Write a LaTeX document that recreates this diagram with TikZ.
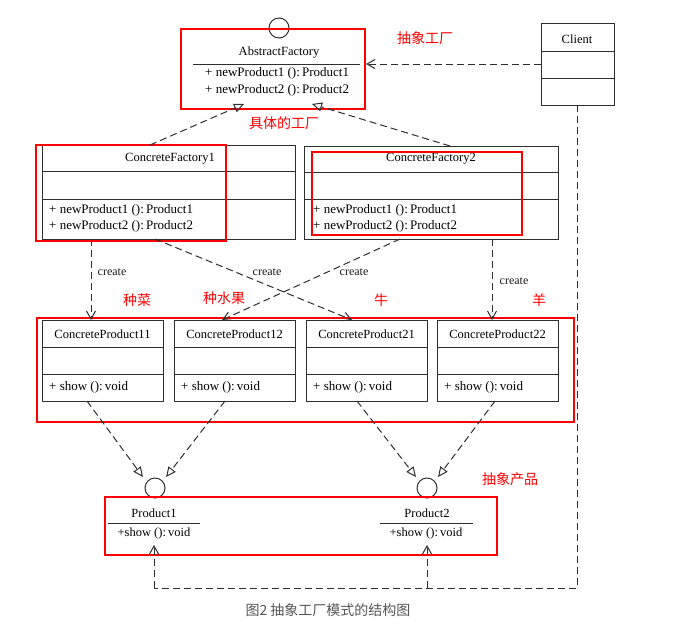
\documentclass[tikz,border=0pt]{standalone}
\usepackage{fontspec}
\setmainfont{Liberation Serif}
\newfontfamily\cjk{Noto Sans CJK SC}
\usetikzlibrary{arrows.meta}
\definecolor{umlgray}{HTML}{2E2E2E}
\definecolor{capgray}{HTML}{555555}
\tikzset{
  uml/.style={draw=umlgray, line width=1pt},
  cls/.style={uml, rectangle, inner sep=0pt, anchor=north west},
  dashline/.style={draw=umlgray, line width=1pt, dash pattern=on 7pt off 4pt},
  dep/.style={dashline, -{Straight Barb[length=8pt,width=9pt]}},
  real/.style={dashline, -{Triangle[open,length=10pt,width=9pt]}},
  redbox/.style={draw=red, line width=2pt},
  ttl/.style={inner sep=0pt, text=black, font=\fontsize{12.5}{14}\selectfont},
  mth/.style={inner sep=0pt, anchor=west, text=black, font=\fontsize{13}{14}\selectfont},
  crt/.style={inner sep=0pt, text=black!90, font=\fontsize{12}{14}\selectfont},
  rlab/.style={inner sep=0pt, text=red, font=\cjk\fontsize{14}{16}\selectfont},
}
\begin{document}
\begin{tikzpicture}[x=1pt,y=-1pt]
\useasboundingbox (0,0) rectangle (692,629);
% ---------- Client ----------
\node[cls, minimum width=73pt, minimum height=82pt] (client) at (541,23) {};
\draw[uml] (541,51) -- (614,51);
\draw[uml] (541,78) -- (614,78);
\node[ttl] (clientT) at (577,39) {Client};
% ---------- AbstractFactory ----------
\node[uml, circle, minimum size=20pt, inner sep=0pt] (afc) at (279,28) {};
\node[ttl] (afT) at (279,53) {AbstractFactory};
\draw[uml] (193,64) -- (360,64);
\node[mth] (afM1) at (205,73) {+ newProduct1 ():\,Product1};
\node[mth] (afM2) at (205,90) {+ newProduct2 ():\,Product2};
\node[redbox, rectangle, inner sep=0pt, anchor=north west, minimum width=184pt, minimum height=80pt] (afR) at (180,28) {};
\coordinate (afIn) at (366,64);
\coordinate (afT1) at (244,104);
\coordinate (afT2) at (312,104);
% ---------- ConcreteFactory1 ----------
\node[cls, minimum width=253pt, minimum height=94pt] (cf1) at (42,145) {};
\draw[uml] (42,171) -- (295,171);
\draw[uml] (42,199) -- (295,199);
\node[ttl] (cf1T) at (170,159) {ConcreteFactory1};
\node[mth] (cf1M1) at (49,210) {+ newProduct1 ():\,Product1};
\node[mth] (cf1M2) at (49,226) {+ newProduct2 ():\,Product2};
\node[redbox, rectangle, inner sep=0pt, anchor=north west, minimum width=190pt, minimum height=96pt] (cf1R) at (35,144) {};
% ---------- ConcreteFactory2 ----------
\node[cls, minimum width=254pt, minimum height=93pt] (cf2) at (304,146) {};
\draw[uml] (304,172) -- (558,172);
\draw[uml] (304,199) -- (558,199);
\node[ttl] (cf2T) at (431,159) {ConcreteFactory2};
\node[mth] (cf2M1) at (313,210) {+ newProduct1 ():\,Product1};
\node[mth] (cf2M2) at (313,226) {+ newProduct2 ():\,Product2};
\node[redbox, rectangle, inner sep=0pt, anchor=north west, minimum width=210pt, minimum height=83pt] (cf2R) at (311,151) {};
% ---------- Concrete products ----------
\foreach \nm/\xl/\tx in {cp11/42/ConcreteProduct11, cp12/174/ConcreteProduct12, cp21/306/ConcreteProduct21, cp22/437/ConcreteProduct22}{
  \node[cls, minimum width=121pt, minimum height=81pt] (\nm) at (\xl,320) {};
  \draw[uml] (\xl,347) -- ++(121,0);
  \draw[uml] (\xl,374) -- ++(121,0);
  \node[ttl] (\nm T) at (\xl+60.5,334) {\tx};
  \node[mth] (\nm M) at (\xl+7,387) {+ show ():\,void};
}
\node[redbox, rectangle, inner sep=0pt, anchor=north west, minimum width=537pt, minimum height=104pt] (cpR) at (36,317) {};
% ---------- Abstract products ----------
\node[uml, circle, minimum size=20pt, inner sep=0pt] (p1c) at (155,488) {};
\node[ttl] (p1T) at (154,513) {Product1};
\draw[uml] (108,523) -- (200,523);
\node[ttl] (p1M) at (154,533) {+show ():\,void};
\node[uml, circle, minimum size=20pt, inner sep=0pt] (p2c) at (427,488) {};
\node[ttl] (p2T) at (427,513) {Product2};
\draw[uml] (380,523) -- (473,523);
\node[ttl] (p2M) at (426,533) {+show ():\,void};
\node[redbox, rectangle, inner sep=0pt, anchor=north west, minimum width=392pt, minimum height=58pt] (pR) at (104,496) {};
% ---------- attach points ----------
\coordinate (cf1a) at (150,145);
\coordinate (cf2a) at (450,146);
\coordinate (cf1b) at (91,239);
\coordinate (cf1c) at (155,239);
\coordinate (cf2b) at (400,239);
\coordinate (cf2c) at (492,239);
\coordinate (cp11t) at (91,320);
\coordinate (cp12t) at (222,320);
\coordinate (cp21t) at (352,320);
\coordinate (cp22t) at (492,320);
\coordinate (cp11b) at (87,401);
\coordinate (cp12b) at (225,401);
\coordinate (cp21b) at (357,401);
\coordinate (cp22b) at (495,401);
\coordinate (p1l) at (143,477);
\coordinate (p1r) at (166,477);
\coordinate (p2l) at (416,477);
\coordinate (p2r) at (438,477);
\coordinate (clB) at (577,105);
\coordinate (k1) at (577,588);
\coordinate (k2) at (427,588);
\coordinate (k3) at (154,588);
\coordinate (p1in) at (154,545);
\coordinate (p2in) at (427,545);
% ---------- connectors ----------
\draw[dep] (client.west |- afIn) -- (afIn);
\draw[real] (cf1a) -- (afT1);
\draw[real] (cf2a) -- (afT2);
\draw[dep] (cf1b) -- (cp11t);
\draw[dep] (cf1c) -- (cp21t);
\draw[dep] (cf2b) -- (cp12t);
\draw[dep] (cf2c) -- (cp22t);
\draw[real] (cp11b) -- (p1l);
\draw[real] (cp12b) -- (p1r);
\draw[real] (cp21b) -- (p2l);
\draw[real] (cp22b) -- (p2r);
\draw[dashline] (clB) -- (k1) -- (k3);
\draw[dep] (k3) -- (p1in);
\draw[dep] (k2) -- (p2in);
% ---------- create labels ----------
\node[crt] (c1) at (112,272) {create};
\node[crt] (c2) at (267,272) {create};
\node[crt] (c3) at (354,272) {create};
\node[crt] (c4) at (514,281) {create};
% ---------- red annotations ----------
\node[rlab] (l1) at (425,38) {抽象工厂};
\node[rlab] (l2) at (284,123) {具体的工厂};
\node[rlab] (l3) at (137,300) {种菜};
\node[rlab] (l4) at (224,298) {种水果};
\node[rlab] (l5) at (381,300) {牛};
\node[rlab] (l6) at (539,300) {羊};
\node[rlab] (l7) at (510,479) {抽象产品};
% ---------- caption ----------
\node[inner sep=0pt, text=capgray, font=\cjk\fontsize{14}{16}\selectfont] (cap) at (328,610) {图2 抽象工厂模式的结构图};
\end{tikzpicture}
\end{document}
